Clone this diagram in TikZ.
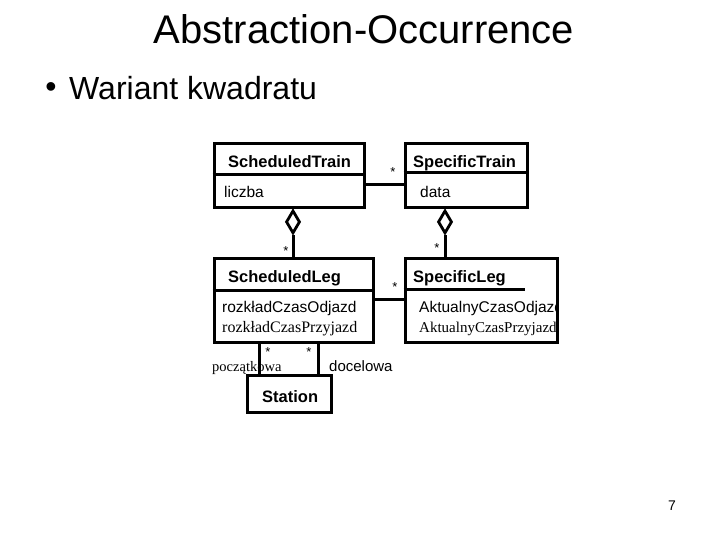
\documentclass[tikz,border=0pt]{standalone}
\usepackage{fontspec}
\setmainfont{Liberation Sans}
\newfontfamily\serifx{Liberation Serif}
\usetikzlibrary{shapes.geometric}
\tikzset{
  cls/.style={draw, line width=3pt, rectangle, inner sep=0pt},
  conn/.style={line width=3pt},
  agg/.style={draw, line width=2.8pt, diamond, aspect=0.6, inner sep=0pt, minimum width=14pt, minimum height=23pt, fill=white},
  lbl/.style={anchor=base west, inner sep=0pt, font=\fontsize{15.5}{16}\selectfont},
  ttl/.style={anchor=base west, inner sep=0pt, font=\fontsize{16.5}{17}\selectfont\bfseries},
  srf/.style={anchor=base west, inner sep=0pt, font=\fontsize{16}{17}\serifx},
  star/.style={anchor=base, inner sep=0pt, font=\fontsize{13}{13}\selectfont}
}
\begin{document}
\begin{tikzpicture}[x=1pt,y=-1pt]
\useasboundingbox (0,0) rectangle (720,540);
% title
\node[anchor=base, inner sep=0pt, font=\fontsize{40}{44}\selectfont] (title) at (364,44) {Abstraction-Occurrence};
\node[inner sep=0pt, font=\fontsize{32}{36}\selectfont] (dot) at (51,90) {\textbullet};
\node[anchor=base west, inner sep=0pt, font=\fontsize{32}{36}\selectfont] (bul) at (69,100) {Wariant kwadratu};
% classes
\node[cls, minimum width=150pt, minimum height=64pt] (st) at (289,176) {};
\node[cls, minimum width=122pt, minimum height=64pt] (spt) at (466,176) {};
\node[cls, minimum width=159pt, minimum height=84pt] (sl) at (293.5,300.5) {};
\node[cls, minimum width=152pt, minimum height=84pt] (spl) at (481,300) {};
\node[cls, minimum width=84pt, minimum height=37pt] (stn) at (289,393.5) {};
% dividers
\draw[line width=3pt] (st.west |- 0,175) -- (st.east |- 0,175);
\draw[line width=3pt] (spt.west |- 0,173) -- (spt.east |- 0,173);
\draw[line width=3pt] (sl.west |- 0,290) -- (sl.east |- 0,290);
\draw[line width=3pt] (spl.west |- 0,289) -- (525,289);
% texts
\node[ttl] (tst) at (228,168) {ScheduledTrain};
\node[lbl] (tli) at (224,198) {liczba};
\node[ttl] (tspt) at (413,168) {SpecificTrain};
\node[lbl] (tda) at (420,198) {data};
\node[ttl] (tsl) at (228,282) {ScheduledLeg};
\node[lbl] (tro) at (222,312) {rozkładCzasOdjazd};
\node[srf] (trp) at (222,332) {rozkładCzasPrzyjazd};
\node[ttl] (tspl) at (413,282) {SpecificLeg};
\begin{scope}
\clip (405,258) rectangle (556,342);
\node[lbl] (tao) at (419,312) {AktualnyCzasOdjazd};
\node[srf, font=\fontsize{15}{16}\serifx] (tap) at (419,332) {AktualnyCzasPrzyjazd};
\end{scope}
\node[ttl] (tstn) at (262,402) {Station};
% associations
\coordinate (a1) at (380,185);
\coordinate (a2) at (390,299);
\draw[conn] (a1 -| st.east) -- (a1 -| spt.west);
\draw[conn] (a2 -| sl.east) -- (a2 -| spl.west);
% aggregations
\node[agg, anchor=north] (d1) at (293,209) {};
\node[agg, anchor=north] (d2) at (445,209) {};
\draw[conn] (d1.south) -- (d1.south |- sl.north);
\draw[conn] (d2.south) -- (d2.south |- spl.north);
% station links
\coordinate (s1) at (259,360);
\coordinate (s2) at (318,360);
\draw[conn] (s1 |- sl.south) -- (s1 |- stn.north);
\draw[conn] (s2 |- sl.south) -- (s2 |- stn.north);
% multiplicities
\node[star] (m1) at (393,177) {*};
\node[star] (m2) at (286,255) {*};
\node[star] (m3) at (437,252) {*};
\node[star] (m4) at (395,291) {*};
\node[star] (m5) at (268,356) {*};
\node[star] (m6) at (309,356) {*};
% role names
\node[srf, font=\fontsize{14.5}{15}\serifx] (rp) at (212,371) {początkowa};
\node[lbl, font=\fontsize{15}{16}\selectfont] (rd) at (329,371) {docelowa};
% page number
\node[anchor=base, inner sep=0pt, font=\fontsize{14}{14}\selectfont] (pg) at (672,510) {7};
\end{tikzpicture}
\end{document}
